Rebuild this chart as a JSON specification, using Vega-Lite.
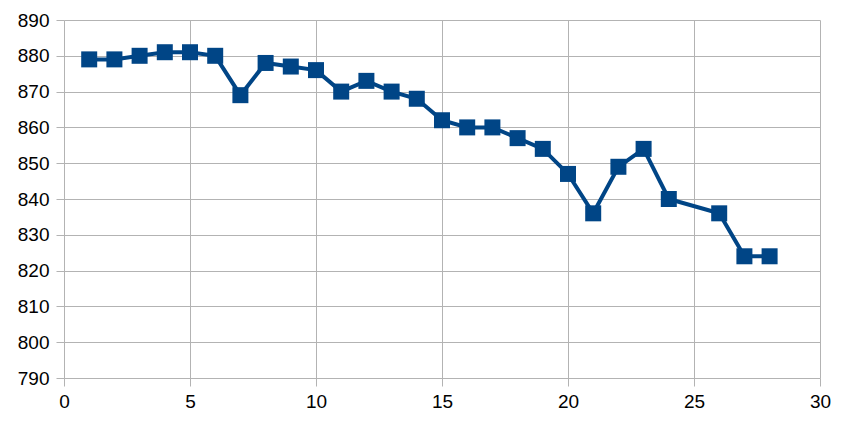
{
  "$schema": "https://vega.github.io/schema/vega-lite/v6.json",
  "autosize": {"type": "none"},
  "width": 756,
  "height": 358,
  "padding": {"left": 64, "top": 20, "right": 28, "bottom": 47},
  "background": "white",
  "config": {
    "view": {"stroke": null},
    "axis": {
      "labelFont": "Liberation Sans",
      "labelFontSize": 19,
      "labelColor": "#000000",
      "gridColor": "#b3b3b3",
      "gridWidth": 1,
      "tickColor": "#b3b3b3",
      "tickSize": 8,
      "domain": false,
      "title": null,
      "labelFlush": false,
      "labelOverlap": false
    }
  },
  "data": {
    "values": [
      {"x": 1, "y": 879}, {"x": 2, "y": 879}, {"x": 3, "y": 880}, {"x": 4, "y": 881},
      {"x": 5, "y": 881}, {"x": 6, "y": 880}, {"x": 7, "y": 869}, {"x": 8, "y": 878},
      {"x": 9, "y": 877}, {"x": 10, "y": 876}, {"x": 11, "y": 870}, {"x": 12, "y": 873},
      {"x": 13, "y": 870}, {"x": 14, "y": 868}, {"x": 15, "y": 862}, {"x": 16, "y": 860},
      {"x": 17, "y": 860}, {"x": 18, "y": 857}, {"x": 19, "y": 854}, {"x": 20, "y": 847},
      {"x": 21, "y": 836}, {"x": 22, "y": 849}, {"x": 23, "y": 854}, {"x": 24, "y": 840},
      {"x": 26, "y": 836}, {"x": 27, "y": 824}, {"x": 28, "y": 824}
    ]
  },
  "encoding": {
    "x": {"field": "x", "type": "quantitative", "scale": {"domain": [0, 30], "nice": false, "zero": false},
      "axis": {"values": [0, 5, 10, 15, 20, 25, 30], "labelPadding": 6}},
    "y": {"field": "y", "type": "quantitative", "scale": {"domain": [790, 890], "nice": false, "zero": false},
      "axis": {"values": [790, 800, 810, 820, 830, 840, 850, 860, 870, 880, 890], "labelPadding": 7}}
  },
  "layer": [
    {"mark": {"type": "line", "color": "#004586", "strokeWidth": 4}},
    {"mark": {"type": "square", "color": "#004586", "filled": true, "opacity": 1, "size": 256}}
  ]
}
